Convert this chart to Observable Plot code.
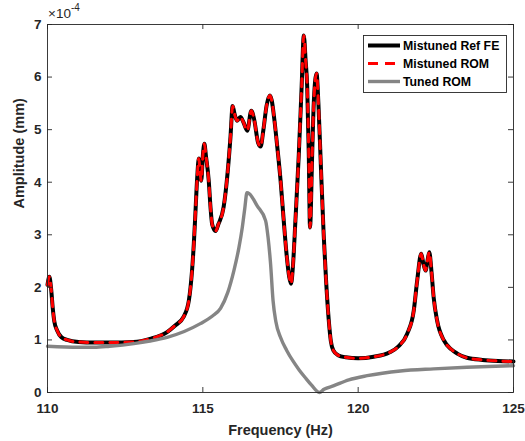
<!DOCTYPE html>
<html>
<head>
<meta charset="utf-8">
<script src="https://cdn.jsdelivr.net/npm/d3@7"></script>
<script src="https://cdn.jsdelivr.net/npm/@observablehq/plot@0.6"></script>
<style>
  html, body { margin: 0; padding: 0; background: white; }
  #wrap { position: relative; width: 525px; height: 441px; font-family: "Liberation Sans", Arial, Helvetica, sans-serif; }
  #expo { position: absolute; left: 48px; top: 3px; font-size: 13.5px; color: #262626; }
  #expo sup { font-size: 10px; position: relative; top: -1px; }
  #legend { position: absolute; left: 363px; top: 35px; }
</style>
</head>
<body>
<div id="wrap"></div>
<script>
// Mistuned response (Ref FE and ROM overlap), amplitude in units of 1e-4 mm
const mistunedFreq = [110.00,110.06,110.12,110.17,110.22,110.31,110.45,110.63,111.0,111.5,112.0,112.77,113.3,113.85,114.1,114.39,114.55,114.65,114.71,114.76,114.82,114.87,114.91,114.95,115.0,115.05,115.1,115.19,115.25,115.3,115.41,115.5,115.67,115.8,115.89,115.96,116.02,116.1,116.21,116.3,116.43,116.56,116.65,116.78,116.86,116.95,117.05,117.16,117.22,117.3,117.4,117.5,117.6,117.7,117.78,117.84,117.9,117.98,118.09,118.18,118.25,118.31,118.36,118.41,118.45,118.52,118.57,118.66,118.72,118.8,118.89,118.97,119.05,119.12,119.2,119.35,119.6,120.0,120.5,121.0,121.3,121.58,121.79,121.9,122.03,122.1,122.17,122.23,122.29,122.36,122.43,122.54,122.76,123.0,123.19,123.5,124.0,124.5,125.0];
const mistunedAmp  = [2.05,2.2,1.95,1.6,1.35,1.18,1.05,1.0,0.96,0.95,0.95,0.96,1.02,1.15,1.27,1.45,1.75,2.3,2.83,3.4,4.1,4.45,4.2,4.03,4.5,4.73,4.5,4.03,3.5,3.2,3.07,3.2,3.53,4.2,4.86,5.45,5.3,5.17,5.24,5.15,4.98,5.36,5.2,4.75,4.68,5.0,5.45,5.65,5.55,5.2,4.65,4.05,3.3,2.6,2.2,2.07,2.4,3.27,4.54,5.81,6.79,6.3,5.81,4.54,3.14,4.54,5.49,6.07,5.5,4.3,3.0,2.1,1.4,0.98,0.8,0.71,0.67,0.65,0.68,0.76,0.88,1.12,1.56,2.13,2.64,2.45,2.32,2.5,2.67,2.3,1.81,1.37,0.99,0.82,0.74,0.66,0.62,0.6,0.59];
// Tuned ROM response
const tunedFreq = [110.0,111.0,111.5,112.0,112.78,113.3,113.85,114.4,114.92,115.3,115.57,115.8,116.0,116.16,116.27,116.35,116.42,116.5,116.75,117.02,117.1,117.18,117.26,117.35,117.5,117.7,117.9,118.1,118.3,118.5,118.75,118.9,119.22,119.7,120.29,121.36,122.43,123.5,125.0];
const tunedAmp  = [0.88,0.86,0.86,0.88,0.93,0.98,1.05,1.16,1.31,1.45,1.6,1.9,2.32,2.75,3.14,3.5,3.8,3.78,3.55,3.27,2.95,2.45,1.75,1.35,1.05,0.8,0.6,0.43,0.28,0.14,0.0,0.06,0.13,0.24,0.32,0.41,0.45,0.48,0.51];

const xTicks = [110, 115, 120, 125];
const yTicks = [0, 1, 2, 3, 4, 5, 6, 7];
const seriesNames = ["Mistuned Ref FE", "Mistuned ROM", "Tuned ROM"];

const mistuned = mistunedFreq.map((f, i) => ({f, a: mistunedAmp[i]}));
const tuned = tunedFreq.map((f, i) => ({f, a: tunedAmp[i]}));

const W = 525, H = 441, mL = 47, mR = 12, mT = 24, mB = 49;
const fw = W - mL - mR, fh = H - mT - mB, tk = 5;
const axisColor = "#262626";

const chart = Plot.plot({
  width: W, height: H,
  marginLeft: mL, marginRight: mR, marginTop: mT, marginBottom: mB,
  x: {domain: [110, 125]},
  y: {domain: [0, 7]},
  style: {fontFamily: "'Liberation Sans', Arial, Helvetica, sans-serif", fontWeight: "bold", fontSize: "13.5px", color: axisColor, background: "white"},
  marks: [
    Plot.line(mistuned, {x: "f", y: "a", stroke: "black", strokeWidth: 4, curve: "monotone-x"}),
    Plot.line(mistuned, {x: "f", y: "a", stroke: "#ff0000", strokeWidth: 3, strokeDasharray: "8,7", curve: "monotone-x"}),
    Plot.line(tuned, {x: "f", y: "a", stroke: "#858585", strokeWidth: 3.4, curve: "monotone-x"}),
    Plot.frame({stroke: axisColor, strokeWidth: 0.9}),
    Plot.tickX(xTicks, {x: d => d, insetTop: fh - tk, stroke: axisColor, strokeWidth: 0.9}),
    Plot.tickX(xTicks, {x: d => d, insetBottom: fh - tk, stroke: axisColor, strokeWidth: 0.9}),
    Plot.tickY(yTicks, {y: d => d, insetRight: fw - tk, stroke: axisColor, strokeWidth: 0.9}),
    Plot.tickY(yTicks, {y: d => d, insetLeft: fw - tk, stroke: axisColor, strokeWidth: 0.9}),
    Plot.axisX(xTicks, {tickSize: 0, tickPadding: 11, label: null, fontSize: 13.5, tickFormat: d => String(d)}),
    Plot.axisY(yTicks, {tickSize: 0, tickPadding: 6, label: null, fontSize: 13.5, tickFormat: d => String(d)}),
    Plot.text(["Frequency (Hz)"], {frameAnchor: "bottom", dy: 38, lineAnchor: "middle", fontSize: 14.5, fontWeight: "bold", fill: axisColor}),
    Plot.text(["Amplitude (mm)"], {frameAnchor: "left", dx: -28, rotate: -90, lineAnchor: "middle", fontSize: 14.5, fontWeight: "bold", fill: axisColor})
  ]
});

const wrap = document.getElementById("wrap");
wrap.appendChild(chart);

const expo = document.createElement("div");
expo.id = "expo";
expo.innerHTML = "×10<sup>-4</sup>";
wrap.appendChild(expo);

// Legend
const legendStyles = [
  {stroke: "black", width: 4, dash: null},
  {stroke: "#ff0000", width: 3.2, dash: "10,7"},
  {stroke: "#858585", width: 3.4, dash: null}
];
const lg = d3.create("svg").attr("id", "legend").attr("width", 144).attr("height", 58);
lg.append("rect").attr("x", 0.5).attr("y", 0.5).attr("width", 143).attr("height", 57)
  .attr("fill", "white").attr("stroke", axisColor).attr("stroke-width", 0.9);
seriesNames.forEach((name, i) => {
  const y = 10.5 + i * 18;
  const s = legendStyles[i];
  const ln = lg.append("line").attr("x1", 5).attr("x2", 37).attr("y1", y).attr("y2", y)
    .attr("stroke", s.stroke).attr("stroke-width", s.width);
  if (s.dash) ln.attr("stroke-dasharray", s.dash);
  lg.append("text").attr("x", 40).attr("y", y).attr("dy", "0.36em")
    .attr("font-family", "'Liberation Sans', Arial, Helvetica, sans-serif")
    .attr("font-weight", "bold").attr("font-size", 12.3).attr("fill", "black").text(name);
});
wrap.appendChild(lg.node());
</script>
</body>
</html>
